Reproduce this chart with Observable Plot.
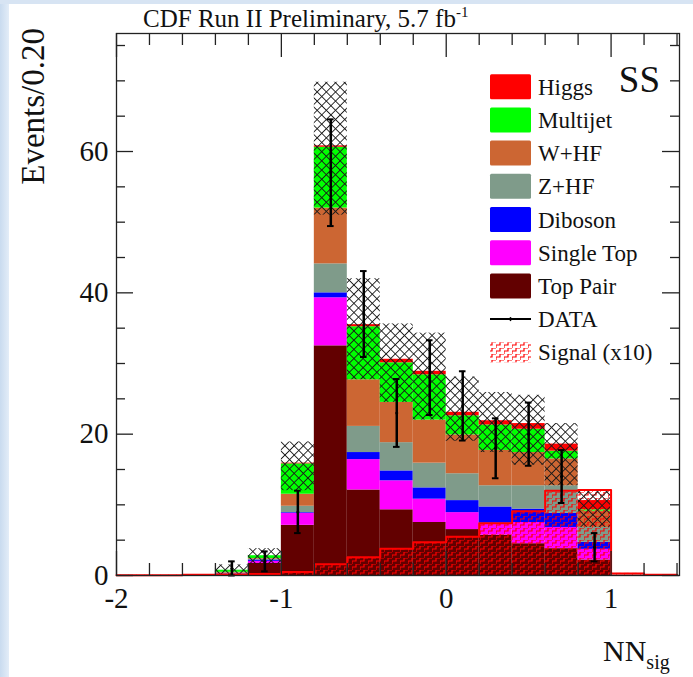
<!DOCTYPE html>
<html><head><meta charset="utf-8">
<script src="https://cdn.jsdelivr.net/npm/d3@7"></script>
<script src="https://cdn.jsdelivr.net/npm/@observablehq/plot@0.6"></script>
<style>
body{margin:0;background:#fff;}
#wrap{position:relative;width:693px;height:677px;overflow:hidden;background:#fff;font-family:"Liberation Serif","DejaVu Serif",serif;}
#bl{position:absolute;left:0;top:0;width:9px;height:677px;background:linear-gradient(90deg,#c9dbef,#e3edf8);}
#bt{position:absolute;left:0;top:0;width:693px;height:4px;background:#d7e4f3;}
#chart{position:absolute;left:0;top:0;}
</style></head>
<body><div id="wrap"><div id="bl"></div><div id="bt"></div><div id="chart"></div></div>
<script>
// ---- data ----
const binStart = [-2.0,-1.8,-1.6,-1.4,-1.2,-1.0,-0.8,-0.6,-0.4,-0.2,0.0,0.2,0.4,0.6,0.8,1.0,1.2];
const binWidth = 0.2;
const topPair   = [0,0,0,0.1,1.7,7.1,32.5,12.1,9.3,7.5,6.5,5.7,4.5,3.8,2.2,0.05,0];
const singleTop = [0,0,0,0.1,0.3,1.7,6.8,4.3,4.1,3.3,2.4,1.7,3.0,3.0,1.5,0,0];
const diboson   = [0,0,0,0.05,0.2,0.1,0.7,1.0,1.4,1.6,1.7,2.3,1.9,2.0,1.0,0,0];
const zhf       = [0,0,0,0.1,0.1,0.9,4.1,3.7,4.0,3.5,3.8,3.0,3.3,3.9,2.1,0,0];
const whf       = [0,0,0,0.1,0.1,1.7,7.9,6.6,5.7,6.1,5.5,5.0,4.7,3.8,2.3,0,0];
const multijet  = [0,0,0,0.3,0.4,4.3,8.6,7.5,5.6,6.4,2.7,3.6,3.3,1.1,0.2,0,0];
const higgs     = [0,0,0,0,0,0.1,0.2,0.3,0.5,0.5,0.5,0.6,0.8,1.0,1.3,0,0];
const bandLo    = [0,0,0,0,1.6,12.0,51.0,27.7,24.5,22.0,19.0,17.4,15.6,12.7,6.8,0,0];
const bandHi    = [0,0,0,1.5,3.8,18.9,69.8,42.0,35.6,34.3,28.1,25.9,25.5,21.5,12.0,0,0];
const signal    = [0.05,0.05,0.1,0.15,0.2,0.5,1.6,2.6,3.8,4.7,5.5,7.4,9.1,12.0,12.1,0.3,0.1];
const dataX   = [-1.3,-1.1,-0.9,-0.7,-0.5,-0.3,-0.1,0.1,0.3,0.5,0.7,0.9];
const dataY   = [1,2,9,57,37,23,28,24,18,20,14,4];
const dataErr = [1,1.41,3,7.55,6.08,4.8,5.29,4.9,4.24,4.47,3.74,2];
const compNames  = ["Top Pair","Single Top","Diboson","Z+HF","W+HF","Multijet","Higgs"];
const compColors = ["#620000","#ff00ff","#0000ff","#7f9b8a","#cc6633","#00ff00","#ff0000"];
const legendNames = ["Higgs","Multijet","W+HF","Z+HF","Diboson","Single Top","Top Pair"];
const xMajorTicks = [-2,-1,0,1];
const xMinorTicks = [-1.8,-1.6,-1.4,-1.2,-0.8,-0.6,-0.4,-0.2,0.2,0.4,0.6,0.8,1.2,1.4];
const yMajorTicks = [0,20,40,60];
const yMinorTicks = [5,10,15,25,30,35,45,50,55,65,70,75];

// ---- build tables ----
const compValues = [topPair,singleTop,diboson,zhf,whf,multijet,higgs];
const stackRows = [];
binStart.forEach((x0,i)=>{
  let base = 0;
  compValues.forEach((vals,k)=>{
    const v = vals[i];
    if (v > 0) stackRows.push({x1:x0, x2:x0+binWidth, y1:base, y2:base+v, name:compNames[k]});
    base += v;
  });
});
const bandRows = binStart.map((x0,i)=>({x1:x0,x2:x0+binWidth,lo:bandLo[i],hi:bandHi[i]})).filter(d=>d.hi>0);
const sigRows = binStart.map((x0,i)=>({x1:x0,x2:x0+binWidth,v:signal[i]}));
const sigLine = binStart.map((x0,i)=>({x:x0,y:signal[i]}));
sigLine.push({x:binStart[binStart.length-1]+binWidth, y:signal[signal.length-1]});
const dataRows = dataX.map((x,i)=>({x, y:dataY[i], lo:dataY[i]-dataErr[i], hi:dataY[i]+dataErr[i]}));

const W=693, H=677, mL=116, mR=14, mT=33, mB=102;
const pW = W-mL-mR, pH = H-mT-mB;
const cap = 0.02;
const ink = "#222";

const svg = Plot.plot({
  width: W, height: H,
  marginLeft: mL, marginRight: mR, marginTop: mT, marginBottom: mB,
  style: {background: "transparent", fontFamily: "Liberation Serif, serif", fontSize: "29px", color: "#111"},
  x: {domain: [-2, 1.415]},
  y: {domain: [0, 76.7]},
  color: {domain: compNames, range: compColors},
  marks: [
    Plot.rect(stackRows, {x1:"x1", x2:"x2", y1:"y1", y2:"y2", fill:"name"}),
    Plot.rect(sigRows, {x1:"x1", x2:"x2", y1:0, y2:"v", fill:"url(#sigPat)"}),
    Plot.rect(bandRows, {x1:"x1", x2:"x2", y1:"lo", y2:"hi", fill:"url(#xPat)"}),
    Plot.line(sigLine, {x:"x", y:"y", curve:"step-after", stroke:"#ff0000", strokeWidth:2}),
    Plot.ruleX(dataRows, {x:"x", y1:"lo", y2:"hi", stroke:"#000", strokeWidth:2.5}),
    Plot.ruleY(dataRows, {y:"lo", x1:d=>d.x-cap, x2:d=>d.x+cap, stroke:"#000", strokeWidth:2}),
    Plot.ruleY(dataRows, {y:"hi", x1:d=>d.x-cap, x2:d=>d.x+cap, stroke:"#000", strokeWidth:2}),
    Plot.dot(dataRows, {x:"x", y:"y", r:1.5, fill:"#000"}),
    Plot.frame({stroke: ink, strokeWidth: 1.3}),
    Plot.tickX(xMajorTicks, {x:d=>d, insetTop:pH-24, stroke:ink, strokeWidth:1.3}),
    Plot.tickX(xMajorTicks, {x:d=>d, insetBottom:pH-24, stroke:ink, strokeWidth:1.3}),
    Plot.tickX(xMinorTicks, {x:d=>d, insetTop:pH-12, stroke:ink, strokeWidth:1.3}),
    Plot.tickX(xMinorTicks, {x:d=>d, insetBottom:pH-12, stroke:ink, strokeWidth:1.3}),
    Plot.tickY(yMajorTicks, {y:d=>d, insetRight:pW-17, stroke:ink, strokeWidth:1.3}),
    Plot.tickY(yMajorTicks, {y:d=>d, insetLeft:pW-17, stroke:ink, strokeWidth:1.3}),
    Plot.tickY(yMinorTicks, {y:d=>d, insetRight:pW-9, stroke:ink, strokeWidth:1.3}),
    Plot.tickY(yMinorTicks, {y:d=>d, insetLeft:pW-9, stroke:ink, strokeWidth:1.3}),
    Plot.axisX(xMajorTicks, {tickSize:0, tickPadding:12, label:null, tickFormat:d=>String(d), fontSize:29}),
    Plot.axisY(yMajorTicks, {tickSize:0, tickPadding:8, label:null, tickFormat:d=>String(d), fontSize:29})
  ]
});
document.getElementById("chart").appendChild(svg);

// ---- patterns ----
const s = d3.select(svg);
const defs = s.insert("defs", ":first-child");
const xp = defs.append("pattern").attr("id","xPat").attr("patternUnits","userSpaceOnUse")
  .attr("width",6.5).attr("height",6.5).attr("patternTransform","rotate(45)");
xp.append("path").attr("d","M0,3.25H6.5M3.25,0V6.5").attr("stroke","#1a1a1a").attr("stroke-width",0.9).attr("fill","none");
const sp = defs.append("pattern").attr("id","sigPat").attr("patternUnits","userSpaceOnUse")
  .attr("width",8).attr("height",6);
sp.append("path").attr("d","M0,6V3H4V0H8").attr("stroke","#ff0000").attr("stroke-width",1.2).attr("fill","none");

// ---- texts ----
const fam = "Liberation Serif, serif";
const title = s.append("text").attr("x",143).attr("y",27).attr("text-anchor","start").attr("font-family",fam).attr("font-size",25).attr("fill","#111");
title.append("tspan").text("CDF Run II Preliminary, 5.7 fb");
title.append("tspan").attr("dy",-10).attr("font-size",15).text("-1");
s.append("text").attr("transform","translate(44,28) rotate(-90)").attr("text-anchor","end")
  .attr("font-family",fam).attr("font-size",33).attr("fill","#111").text("Events/0.20");
s.append("text").attr("x",660).attr("y",92).attr("text-anchor","end").attr("font-family",fam).attr("font-size",37).attr("fill","#111").text("SS");
const xl = s.append("text").attr("x",603).attr("y",661).attr("text-anchor","start").attr("font-family",fam).attr("font-size",30).attr("fill","#111");
xl.append("tspan").text("NN");
xl.append("tspan").attr("dy",8).attr("font-size",20).text("sig");

// ---- legend ----
const lg = s.append("g").attr("text-anchor","start");
const rowY0 = 86.7, rowDy = 33.2;
legendNames.forEach((n,i)=>{
  const cy = rowY0 + i*rowDy;
  lg.append("rect").attr("x",490).attr("y",cy-12.5).attr("width",41).attr("height",25).attr("rx",1.5)
    .attr("fill",compColors[compNames.indexOf(n)]);
  lg.append("text").attr("x",538).attr("y",cy).attr("dy","0.35em").attr("font-family",fam).attr("font-size",23).attr("fill","#111").text(n);
});
{
  const cy = rowY0 + 7*rowDy;
  lg.append("line").attr("x1",490).attr("x2",531).attr("y1",cy).attr("y2",cy).attr("stroke","#000").attr("stroke-width",2);
  lg.append("line").attr("x1",510.5).attr("x2",510.5).attr("y1",cy-2).attr("y2",cy+2).attr("stroke","#000").attr("stroke-width",1.5);
  lg.append("text").attr("x",538).attr("y",cy).attr("dy","0.35em").attr("font-family",fam).attr("font-size",23).attr("fill","#111").text("DATA");
  const cy2 = rowY0 + 8*rowDy;
  lg.append("rect").attr("x",490).attr("y",cy2-10).attr("width",41).attr("height",20).attr("fill","url(#sigPat)");
  lg.append("text").attr("x",538).attr("y",cy2).attr("dy","0.35em").attr("font-family",fam).attr("font-size",23).attr("fill","#111").text("Signal (x10)");
}
</script></body></html>
